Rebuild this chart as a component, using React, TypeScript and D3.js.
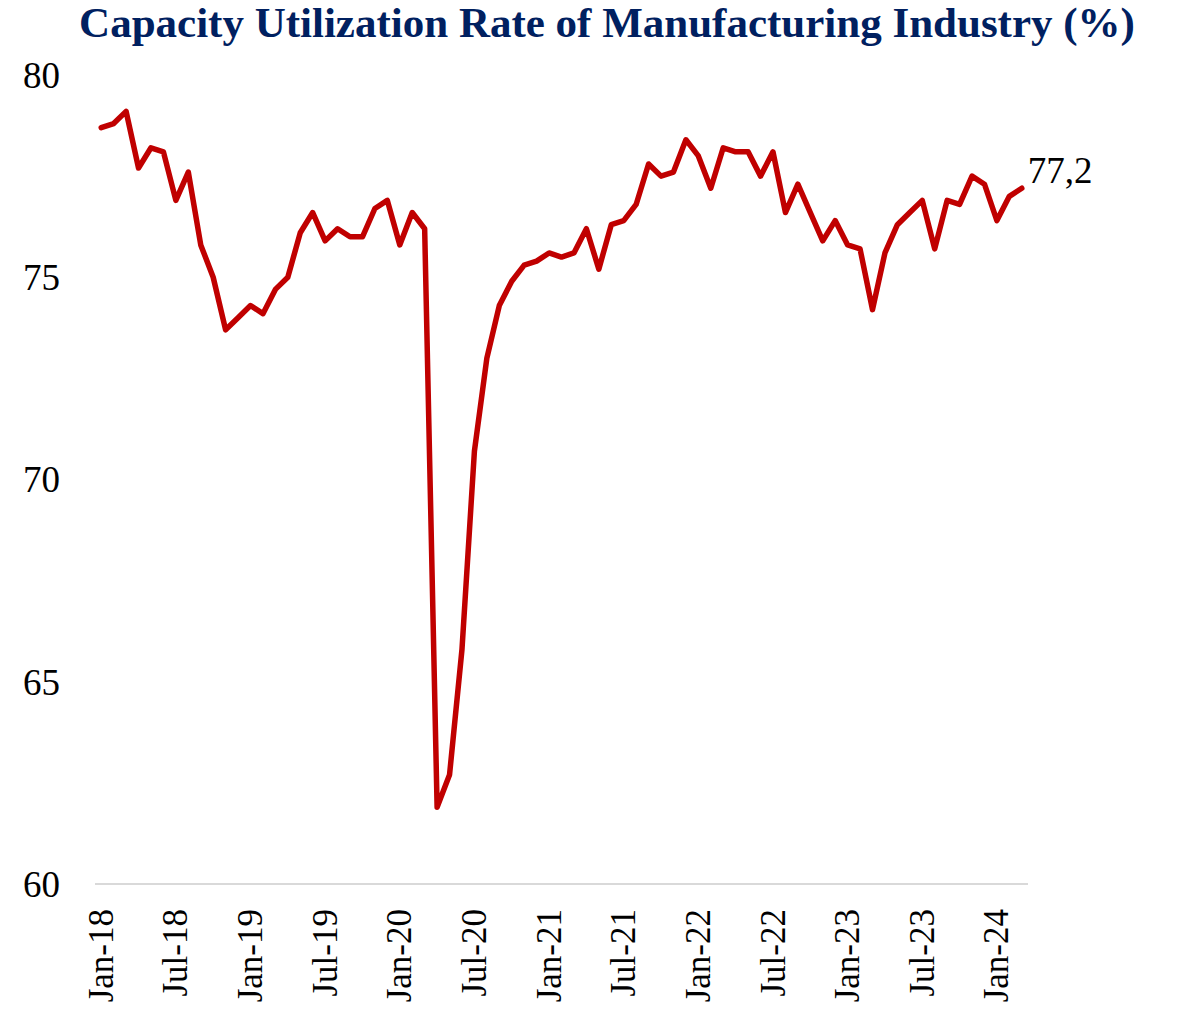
import { useEffect, useRef } from "react";
import * as d3 from "d3";

// monthly, Jan-18 .. Mar-24
const startYear = 2018;
const values = [
  78.7, 78.8, 79.1, 77.7, 78.2, 78.1, 76.9, 77.6, 75.8, 75.0, 73.7, 74.0,
  74.3, 74.1, 74.7, 75.0, 76.1, 76.6, 75.9, 76.2, 76.0, 76.0, 76.7, 76.9,
  75.8, 76.6, 76.2, 61.9, 62.7, 65.8, 70.7, 73.0, 74.3, 74.9, 75.3, 75.4,
  75.6, 75.5, 75.6, 76.2, 75.2, 76.3, 76.4, 76.8, 77.8, 77.5, 77.6, 78.4,
  78.0, 77.2, 78.2, 78.1, 78.1, 77.5, 78.1, 76.6, 77.3, 76.6, 75.9, 76.4,
  75.8, 75.7, 74.2, 75.6, 76.3, 76.6, 76.9, 75.7, 76.9, 76.8, 77.5, 77.3,
  76.4, 77.0, 77.2,
];
const yTicks = [60, 65, 70, 75, 80];
const title = "Capacity Utilization Rate of Manufacturing Industry (%)";

const monthNames = ["Jan", "Feb", "Mar", "Apr", "May", "Jun", "Jul", "Aug", "Sep", "Oct", "Nov", "Dec"];
const months = values.map((_, i) => {
  const y = startYear + Math.floor(i / 12);
  return `${monthNames[i % 12]}-${String(y).slice(2)}`;
});

export default function App() {
  const ref = useRef<SVGSVGElement>(null);

  useEffect(() => {
    document.body.style.margin = "0";
    const width = 1188;
    const height = 1011;
    const left = 95;
    const right = 1028;
    const top = 75;
    const bottom = 884;
    const font = "'Liberation Serif', 'Times New Roman', serif";

    const svg = d3.select(ref.current);
    svg.selectAll("*").remove();

    const x = d3.scaleBand<string>().domain(months).range([left, right]);
    const y = d3.scaleLinear().domain([60, 80]).range([bottom, top]);
    const cx = (m: string) => (x(m) as number) + x.bandwidth() / 2;

    // title, fitted to the reference width
    const t = svg.append("text")
      .attr("x", 607)
      .attr("y", 37)
      .attr("text-anchor", "middle")
      .attr("font-family", font)
      .attr("font-weight", "bold")
      .attr("font-size", 43)
      .attr("fill", "#002060")
      .text(title);
    const tl = (t.node() as SVGTextElement).getComputedTextLength();
    if (tl > 0) t.attr("font-size", Math.min(43, 43 * 1088 / tl));

    // y labels
    svg.append("g")
      .selectAll("text")
      .data(yTicks)
      .enter()
      .append("text")
      .attr("x", 60)
      .attr("y", d => y(d))
      .attr("dy", "0.35em")
      .attr("text-anchor", "end")
      .attr("font-family", font)
      .attr("font-size", 37)
      .attr("fill", "#000")
      .text(d => d);

    // axis line
    svg.append("line")
      .attr("x1", left)
      .attr("x2", right)
      .attr("y1", y(60))
      .attr("y2", y(60))
      .attr("stroke", "#d9d9d9")
      .attr("stroke-width", 2);

    // x labels every 6 months
    svg.append("g")
      .selectAll("text")
      .data(months.filter((_, i) => i % 6 === 0))
      .enter()
      .append("text")
      .attr("transform", d => `translate(${cx(d)},${909}) rotate(-90)`)
      .attr("dy", "0.33em")
      .attr("text-anchor", "end")
      .attr("font-family", font)
      .attr("font-size", 35)
      .attr("fill", "#000")
      .text(d => d);

    // line
    const line = d3.line<number>()
      .x((_, i) => cx(months[i]))
      .y(d => y(d));

    svg.append("path")
      .datum(values)
      .attr("fill", "none")
      .attr("stroke", "#c00000")
      .attr("stroke-width", 5.5)
      .attr("stroke-linejoin", "round")
      .attr("stroke-linecap", "round")
      .attr("d", line);

    // last value label
    const last = values.length - 1;
    svg.append("text")
      .attr("x", cx(months[last]) + 6)
      .attr("y", y(values[last]) - 5)
      .attr("font-family", font)
      .attr("font-size", 37)
      .attr("fill", "#000")
      .text(String(values[last]).replace(".", ","));

    svg.attr("width", width).attr("height", height);
  }, []);

  return <svg ref={ref} width={1188} height={1011} style={{ display: "block", background: "#fff" }}></svg>;
}
